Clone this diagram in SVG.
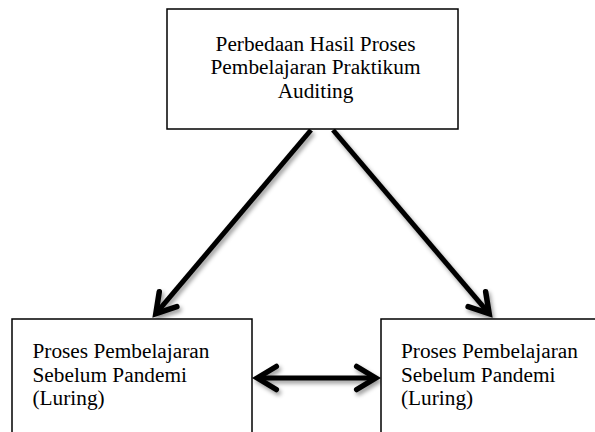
<svg xmlns="http://www.w3.org/2000/svg" width="595" height="432" viewBox="0 0 595 432">
<style>
.box{fill:#fff;stroke:#000;stroke-width:1.5}
.t{font-family:"Liberation Serif","Times New Roman",serif;font-size:21.3px;fill:#000}
.c{stroke:#000;stroke-width:5;fill:none}
</style>
<defs>
<marker id="ah" markerUnits="userSpaceOnUse" markerWidth="32" markerHeight="32" viewBox="0 0 32 32" refX="20" refY="16" orient="auto-start-reverse" overflow="visible">
<path d="M3,4.5 L22,16 L3,27.5" fill="none" stroke="#000" stroke-width="5.5" stroke-linejoin="miter" stroke-linecap="round"/>
</marker>
<filter id="sh" x="-20%" y="-20%" width="140%" height="140%">
<feDropShadow dx="2" dy="3" stdDeviation="2" flood-color="#000" flood-opacity="0.4"/>
</filter>
</defs>
<rect width="595" height="432" fill="#fff"/>
<g id="connectors" filter="url(#sh)">
<path class="c" d="M311,130 L157.1,312.2" marker-end="url(#ah)"/>
<path class="c" d="M333,130 L487.9,312.2" marker-end="url(#ah)"/>
<path class="c" d="M259.3,378 L373.7,378" marker-start="url(#ah)" marker-end="url(#ah)"/>
</g>
<g id="node-top">
<rect class="box" x="167" y="9" width="291" height="120"/>
<text class="t" text-anchor="middle" x="315.5" y="50.5">Perbedaan Hasil Proses</text>
<text class="t" text-anchor="middle" x="315.5" y="74">Pembelajaran Praktikum</text>
<text class="t" text-anchor="middle" x="315.5" y="97.5">Auditing</text>
</g>
<g id="node-left">
<rect class="box" x="12" y="319" width="240" height="130"/>
<text class="t" x="32.5" y="358">Proses Pembelajaran</text>
<text class="t" x="32.5" y="381.6">Sebelum Pandemi</text>
<text class="t" x="32.5" y="405.2">(Luring)</text>
</g>
<g id="node-right">
<rect class="box" x="381" y="319" width="230" height="130"/>
<text class="t" x="401" y="358">Proses Pembelajaran</text>
<text class="t" x="401" y="381.6">Sebelum Pandemi</text>
<text class="t" x="401" y="405.2">(Luring)</text>
</g>
</svg>
